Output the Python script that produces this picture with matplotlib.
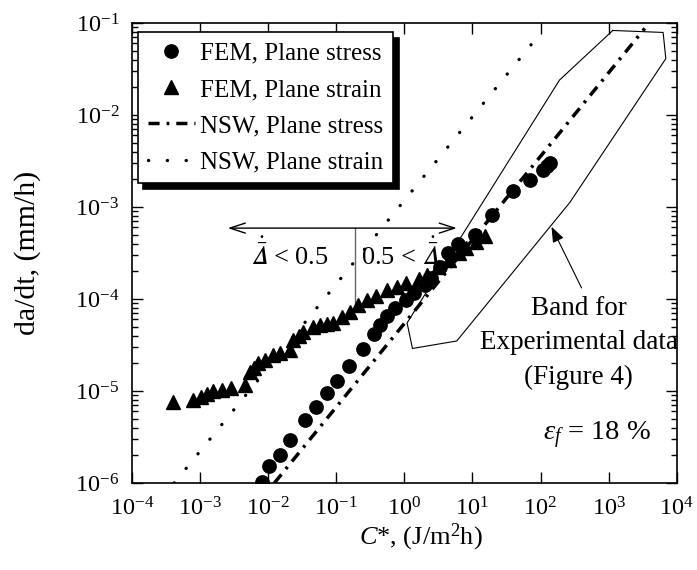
import matplotlib
matplotlib.use("Agg")
import matplotlib.pyplot as plt
import numpy as np

plt.rcParams['font.family'] = ['Liberation Serif', 'DejaVu Serif']
plt.rcParams['mathtext.fontset'] = 'custom'
plt.rcParams['mathtext.rm'] = 'Liberation Serif'
plt.rcParams['mathtext.it'] = 'Liberation Serif:italic'
plt.rcParams['mathtext.bf'] = 'Liberation Serif:bold'
plt.rcParams['axes.unicode_minus'] = False

# ---------------- data ----------------
fem_stress_c = [8.13e-3, 1.02e-2, 1.48e-2, 2.09e-2, 3.55e-2, 5.13e-2, 7.41e-2, 1.02e-1,
                1.55e-1, 2.45e-1, 3.55e-1, 4.37e-1, 5.50e-1, 7.24e-1, 1.07, 1.41, 2.00,
                2.51, 3.31, 4.37, 6.17, 11.0, 19.1, 39.8, 69.2, 110, 126, 138]
fem_stress_rate = [1.02e-6, 1.55e-6, 2.04e-6, 2.95e-6, 4.79e-6, 6.76e-6, 9.55e-6, 1.29e-5,
                   1.86e-5, 2.88e-5, 4.17e-5, 5.25e-5, 6.46e-5, 7.94e-5, 9.77e-5, 1.17e-4,
                   1.41e-4, 1.70e-4, 2.24e-4, 3.16e-4, 3.98e-4, 5.01e-4, 8.13e-4, 1.48e-3,
                   1.95e-3, 2.51e-3, 2.82e-3, 3.02e-3]

fem_strain_c = [4.07e-4, 7.94e-4, 1.05e-3, 1.26e-3, 1.55e-3, 2.09e-3, 2.88e-3, 4.57e-3,
                5.37e-3, 6.17e-3, 7.08e-3, 8.91e-3, 1.17e-2, 1.48e-2, 2.09e-2, 2.34e-2,
                2.82e-2, 3.31e-2, 4.57e-2, 5.75e-2, 7.24e-2, 9.12e-2, 1.20e-1, 1.58e-1,
                2.09e-1, 2.82e-1, 3.89e-1, 5.50e-1, 7.76e-1, 1.07, 1.62, 2.14, 3.16,
                4.47, 6.31, 8.13, 11.2, 15.1]
fem_strain_rate = [7.59e-6, 7.94e-6, 8.71e-6, 9.33e-6, 1.00e-5, 1.02e-5, 1.07e-5, 1.17e-5,
                   1.62e-5, 1.78e-5, 2.00e-5, 2.19e-5, 2.45e-5, 2.57e-5, 2.82e-5, 3.55e-5,
                   3.98e-5, 4.37e-5, 5.01e-5, 5.25e-5, 5.37e-5, 5.50e-5, 6.31e-5, 7.24e-5,
                   8.51e-5, 9.77e-5, 1.07e-4, 1.26e-4, 1.35e-4, 1.48e-4, 1.66e-4, 1.82e-4,
                   2.24e-4, 2.63e-4, 3.16e-4, 3.55e-4, 4.17e-4, 4.79e-4]

nsw_stress_c = [1.24e-2, 3.39e3]
nsw_stress_rate = [1.0e-6, 8.75e-2]
nsw_strain_c = [4.2e-4, 95.0]
nsw_strain_rate = [1.0e-6, 7.4e-2]

band_c = [1.15e3, 6.3e3, 6.9e3, 2.69e2, 5.9, 1.32, 1.10, 1.9e2, 1.15e3]
band_rate = [8.3e-2, 7.9e-2, 4.1e-2, 1.12e-3, 3.5e-5, 2.9e-5, 5.5e-5, 2.4e-2, 8.3e-2]

x_ticks = [1e-4, 1e-3, 1e-2, 1e-1, 1e0, 1e1, 1e2, 1e3, 1e4]
y_ticks = [1e-6, 1e-5, 1e-4, 1e-3, 1e-2, 1e-1]

legend_labels = ['FEM, Plane stress', 'FEM, Plane strain',
                 'NSW, Plane stress', 'NSW, Plane strain']

# ---------------- figure ----------------
fig = plt.figure(figsize=(6.97, 5.70), dpi=100)
ax = fig.add_axes([0.189, 0.1526, 0.782, 0.807])
ax.set_xscale('log')
ax.set_yscale('log')
ax.set_xticks(x_ticks)
ax.set_yticks(y_ticks)
ax.set_xlim(1e-4, 1e4)
ax.set_ylim(1e-6, 1e-1)

l3, = ax.plot(nsw_stress_c, nsw_stress_rate, color='k', lw=2.5,
              linestyle=(0, (3.2, 2.0, 0.8, 2.0)), dash_capstyle='butt',
              label=legend_labels[2], zorder=2)
l4, = ax.plot(nsw_strain_c, nsw_strain_rate, color='k', lw=2.4,
              linestyle=(0, (0.05, 5.6)), dash_capstyle='round',
              label=legend_labels[3], zorder=2)
l1, = ax.plot(fem_stress_c, fem_stress_rate, 'o', color='k', ms=9.6,
              label=legend_labels[0], zorder=3)
l2, = ax.plot(fem_strain_c, fem_strain_rate, '^', color='k', ms=9.4,
              label=legend_labels[1], zorder=3)

ax.plot(band_c, band_rate, color='k', lw=0.8, zorder=1)

# ticks
ax.tick_params(which='both', direction='in', top=True, right=True,
               labelsize=17.5, width=1)
ax.tick_params(which='major', length=8)
ax.tick_params(which='minor', length=4)
ax.tick_params(axis='x', which='major', pad=10)
ax.tick_params(axis='y', which='major', pad=9)
for s in ax.spines.values():
    s.set_linewidth(1.2)

ax.set_xlabel(r'$C$*, (J/m$^2$h)', fontsize=19)
ax.set_ylabel('da/dt, (mm/h)', fontsize=21.5)
ax.xaxis.set_label_coords(0.53, -0.085)
ax.yaxis.set_label_coords(-0.166, 0.5)

# annotations
ax.annotate('', xy=(2.57e-3, 5.9e-4), xytext=(5.9, 5.9e-4),
            arrowprops=dict(arrowstyle='<->,head_length=0.55,head_width=0.18',
                            lw=1, color='k', mutation_scale=20,
                            shrinkA=0, shrinkB=0))
ax.plot([0.19, 0.19], [5.9e-4, 8.3e-5], color='#666666', lw=1, zorder=1)
delta = '$\\dot{\\bar{\U0001D6E5}}$'
ax.text(0.0209, 3.1e-4, delta + ' < 0.5', fontsize=19,
        ha='center', va='center', math_fontfamily='stix')
ax.text(0.86, 3.1e-4, '0.5 < ' + delta, fontsize=19,
        ha='center', va='center', math_fontfamily='stix')

ax.text(366, 3.33e-5, 'Band for\nExperimental data\n(Figure 4)', fontsize=19.5,
        ha='center', va='center', linespacing=1.5)
ax.annotate('', xy=(145, 6.1e-4), xytext=(400, 1.32e-4),
            arrowprops=dict(arrowstyle='-|>,head_length=0.47,head_width=0.18',
                            lw=0.8, color='k', mutation_scale=20,
                            shrinkA=0, shrinkB=0))
ax.text(673, 3.3e-6, r'$\varepsilon_f$ = 18 %', fontsize=20.5,
        ha='center', va='center')

leg = ax.legend(handles=[l1, l2, l3, l4], loc='upper left',
                bbox_to_anchor=(0.011, 0.98), borderaxespad=0,
                fontsize=18, frameon=True, fancybox=False,
                handlelength=1.9, handletextpad=0.2, labelspacing=0.55,
                borderpad=0.4,
                shadow={'ox': 4, 'oy': -4, 'facecolor': 'k',
                        'edgecolor': 'k', 'alpha': 1})
leg.get_frame().set_edgecolor('k')
leg.get_frame().set_linewidth(1.2)
leg.get_frame().set_alpha(1)

fig.savefig('out.png', dpi=100)
